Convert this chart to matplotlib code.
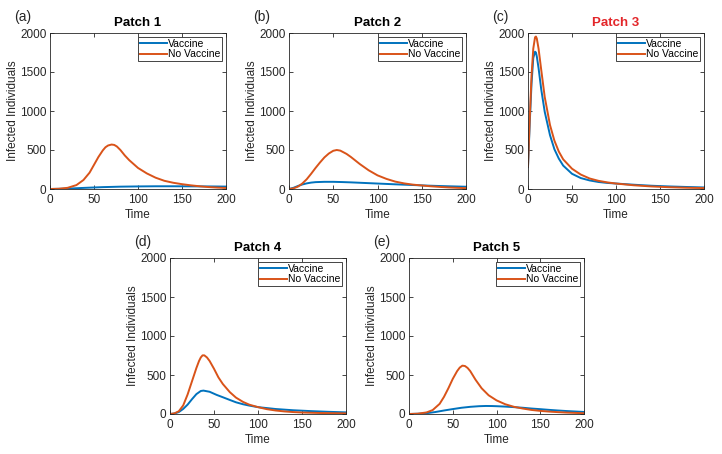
import matplotlib
matplotlib.use("Agg")
import matplotlib.pyplot as plt

plt.rcParams['font.family'] = ['Liberation Sans', 'DejaVu Sans']

# ---- data ----
p1_t_nv = [0, 10, 20, 30, 38, 45, 50, 55, 60, 63, 66, 70, 73, 76, 80, 85, 90, 100, 110, 120, 130, 140, 150, 160, 170, 180, 190, 200]
p1_nv = [0, 3, 15, 50, 115, 210, 310, 410, 495, 535, 558, 570, 565, 545, 500, 430, 370, 270, 200, 145, 105, 80, 62, 47, 35, 25, 18, 13]
p1_t_v = [0, 20, 40, 60, 80, 100, 120, 140, 160, 180, 200]
p1_v = [0, 5, 15, 24, 30, 33, 35, 35, 34, 33, 31]

p2_t_nv = [0, 5, 10, 15, 20, 25, 30, 35, 40, 45, 50, 54, 58, 65, 70, 80, 90, 100, 110, 120, 130, 140, 150, 160, 170, 180, 190, 200]
p2_nv = [0, 8, 30, 70, 125, 195, 270, 340, 405, 455, 490, 500, 492, 450, 410, 320, 240, 175, 130, 95, 72, 56, 45, 35, 27, 20, 15, 11]
p2_t_v = [0, 5, 10, 15, 20, 25, 30, 40, 50, 60, 70, 80, 90, 100, 120, 140, 160, 180, 200]
p2_v = [0, 15, 38, 58, 72, 82, 88, 92, 92, 89, 85, 80, 75, 70, 60, 51, 42, 35, 29]

p3_t = [0, 2, 4, 6, 8, 9, 10, 12, 15, 19, 25, 30, 35, 40, 50, 60, 70, 80, 90, 100, 120, 140, 160, 180, 200]
p3_nv = [290, 900, 1450, 1800, 1945, 1955, 1930, 1800, 1530, 1180, 820, 620, 480, 380, 260, 185, 135, 105, 85, 70, 48, 33, 23, 16, 12]
p3_v = [280, 850, 1350, 1680, 1760, 1750, 1700, 1550, 1280, 990, 690, 510, 390, 300, 195, 140, 110, 90, 78, 70, 55, 42, 33, 26, 20]

p4_t_nv = [0, 5, 10, 15, 20, 25, 30, 33, 35, 37, 39, 42, 45, 50, 55, 60, 68, 75, 83, 90, 100, 110, 120, 130, 140, 150, 170, 200]
p4_nv = [0, 8, 35, 110, 250, 420, 590, 680, 725, 752, 752, 725, 680, 580, 470, 385, 280, 210, 155, 120, 88, 62, 45, 33, 25, 19, 13, 8]
p4_t_v = [0, 5, 10, 15, 20, 25, 30, 35, 38, 45, 53, 60, 68, 75, 83, 90, 100, 120, 140, 160, 180, 200]
p4_v = [0, 6, 25, 65, 120, 190, 255, 295, 300, 285, 245, 215, 180, 150, 125, 108, 88, 64, 48, 37, 28, 21]

p5_t_nv = [0, 10, 20, 27, 35, 40, 45, 50, 55, 58, 61, 64, 67, 70, 76, 83, 91, 100, 110, 120, 130, 140, 150, 160, 170, 180, 190, 200]
p5_nv = [0, 4, 20, 50, 130, 220, 330, 450, 550, 595, 620, 615, 590, 550, 440, 330, 240, 175, 125, 92, 70, 52, 40, 31, 24, 18, 14, 10]
p5_t_v = [0, 10, 20, 30, 40, 50, 60, 70, 80, 88, 95, 100, 110, 120, 130, 140, 150, 160, 170, 180, 190, 200]
p5_v = [0, 3, 10, 25, 45, 63, 80, 92, 100, 103, 102, 100, 95, 88, 80, 70, 62, 53, 45, 38, 32, 26]

titles = ["Patch 1", "Patch 2", "Patch 3", "Patch 4", "Patch 5"]
panel_labels = ["(a)", "(b)", "(c)", "(d)", "(e)"]
series_names = ["Vaccine", "No Vaccine"]
xticks = [0, 50, 100, 150, 200]
yticks = [0, 500, 1000, 1500, 2000]

data = [
    (p1_t_v, p1_v, p1_t_nv, p1_nv),
    (p2_t_v, p2_v, p2_t_nv, p2_nv),
    (p3_t, p3_v, p3_t, p3_nv),
    (p4_t_v, p4_v, p4_t_nv, p4_nv),
    (p5_t_v, p5_v, p5_t_nv, p5_nv),
]

W, H = 722, 454
fig = plt.figure(figsize=(W / 100, H / 100), dpi=100)

# axes boxes in pixels: left, top, right, bottom
boxes = [
    (50, 33, 226, 189),
    (289, 33, 466, 189),
    (528, 33, 704, 189),
    (170, 258, 346, 414),
    (409, 258, 584, 414),
]

BLUE = '#0072BD'
ORANGE = '#D95319'
DARK = '#262626'

for i, (l, t, r, b) in enumerate(boxes):
    w, h = r - l, b - t
    ax = fig.add_axes([l / W, 1 - b / H, w / W, h / H])
    tv, v, tnv, nv = data[i]
    ax.plot(tv, v, color=BLUE, lw=1.4, label=series_names[0])
    ax.plot(tnv, nv, color=ORANGE, lw=1.4, label=series_names[1])
    ax.set_xlim(0, 200)
    ax.set_ylim(0, 2000)
    ax.set_xticks(xticks)
    ax.set_yticks(yticks)
    ax.tick_params(direction='in', top=True, right=True, length=3, width=0.6,
                   labelsize=8.5, colors=DARK)
    ax.tick_params(axis='x', pad=3.5)
    ax.tick_params(axis='y', pad=2.5)
    for s in ax.spines.values():
        s.set_color(DARK)
        s.set_linewidth(0.6)
    ax.set_xlabel("Time", fontsize=8.5, color=DARK)
    ax.set_ylabel("Infected Individuals", fontsize=8.5, color=DARK)
    ax.xaxis.set_label_coords(0.5, -26 / h)
    ax.yaxis.set_label_coords(-37 / w, 0.5)
    ax.xaxis.label.set_va('center')
    ax.yaxis.label.set_va('center')
    tcolor = '#E3262A' if i == 2 else 'black'
    ax.set_title(titles[i], fontsize=9.5, fontweight='bold', color=tcolor, pad=5)
    leg = ax.legend(loc='upper right', fontsize=7.5, frameon=True, fancybox=False,
                    edgecolor=DARK, framealpha=1, borderpad=0.15, labelspacing=0.05,
                    handlelength=2.6, handletextpad=0.1, borderaxespad=0.4)
    leg.get_frame().set_linewidth(0.6)
    fig.text((l - 36) / W, 1 - (t - 16) / H, panel_labels[i], fontsize=10,
             color=DARK, ha='left', va='center')

fig.savefig("out.png", dpi=100)
